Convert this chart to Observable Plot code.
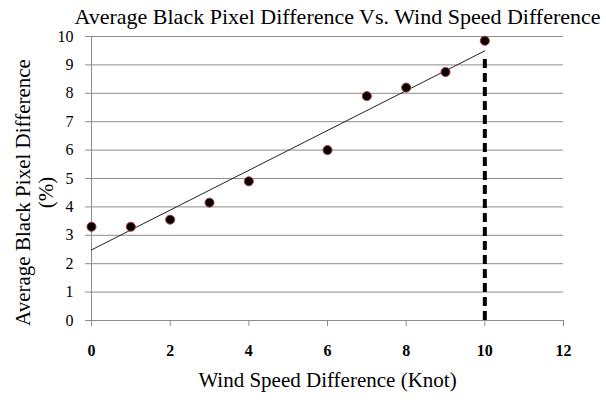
<!DOCTYPE html>
<html><head><meta charset="utf-8">
<style>body{margin:0;background:#fff;} svg{display:block;}</style>
<script src="https://cdn.jsdelivr.net/npm/d3@7"></script>
<script src="https://cdn.jsdelivr.net/npm/@observablehq/plot@0.6"></script>
</head><body><div id="chart"></div>
<script>
const windSpeed = [0, 1, 2, 3, 4, 6, 7, 8, 9, 10];
const blackPixelDiff = [3.3, 3.3, 3.55, 4.15, 4.9, 6.0, 7.9, 8.2, 8.75, 9.85];
const xTicks = [0, 2, 4, 6, 8, 10, 12];
const yTicks = [0, 1, 2, 3, 4, 5, 6, 7, 8, 9, 10];
const titleText = "Average Black Pixel Difference Vs. Wind Speed Difference";
const xLabel = "Wind Speed Difference (Knot)";
const yLabel = "Average Black Pixel Difference\n(%)";
const markerX = [10];

const data = windSpeed.map((x, i) => ({x, y: blackPixelDiff[i]}));
// least squares fit
const mx = d3.mean(windSpeed), my = d3.mean(blackPixelDiff);
const slope = d3.sum(data, d => (d.x - mx) * (d.y - my)) / d3.sum(data, d => (d.x - mx) ** 2);
const intercept = my - slope * mx;
const marker = markerX.map(x => ({x, y: intercept + slope * x}));

const font = "'Liberation Serif', 'Times New Roman', serif";
const chart = Plot.plot({
  width: 606, height: 405,
  marginLeft: 91, marginRight: 43, marginTop: 36, marginBottom: 85,
  style: {fontFamily: font, background: "#fff", color: "#000"},
  x: {domain: [0, 12]},
  y: {domain: [0, 10]},
  marks: [
    Plot.gridY(yTicks, {stroke: "#8c8c8c", strokeOpacity: 1}),
    Plot.ruleX([0], {stroke: "#8c8c8c"}),
    Plot.axisY(yTicks, {tickSize: 6, tickPadding: 12, fontSize: 16, stroke: "#8c8c8c", label: null, fill: "#000"}),
    Plot.axisX(xTicks, {tickSize: 6, tickPadding: 18, fontSize: 16, stroke: "#8c8c8c", label: null, fill: "#000", fontWeight: "bold"}),
    Plot.linearRegressionY(data, {x: "x", y: "y", ci: 0, stroke: "#222", strokeWidth: 1}),
    Plot.ruleX(marker, {x: "x", y1: 0, y2: "y", stroke: "#000", strokeWidth: 4, strokeDasharray: "9,5", insetBottom: -4}),
    Plot.dot(data, {x: "x", y: "y", r: 4.5, fill: "#000", stroke: "#b03030", strokeWidth: 1}),
    Plot.text([titleText], {frameAnchor: "top", lineAnchor: "middle", dy: -20, dx: 10, fontSize: 22, fill: "#000"}),
    Plot.text([xLabel], {frameAnchor: "bottom", lineAnchor: "middle", dy: 60, dx: 0, fontSize: 21, fill: "#000"}),
    Plot.text([yLabel], {frameAnchor: "left", textAnchor: "middle", lineAnchor: "middle", dx: -57, dy: 14, rotate: -90, fontSize: 21, lineHeight: 1.1, fill: "#000"})
  ]
});
chart.querySelectorAll("text, g").forEach(el => { el.style.fontFamily = font; });
chart.querySelectorAll("[font-variant]").forEach(el => el.removeAttribute("font-variant"));
document.getElementById("chart").appendChild(chart);
</script></body></html>
